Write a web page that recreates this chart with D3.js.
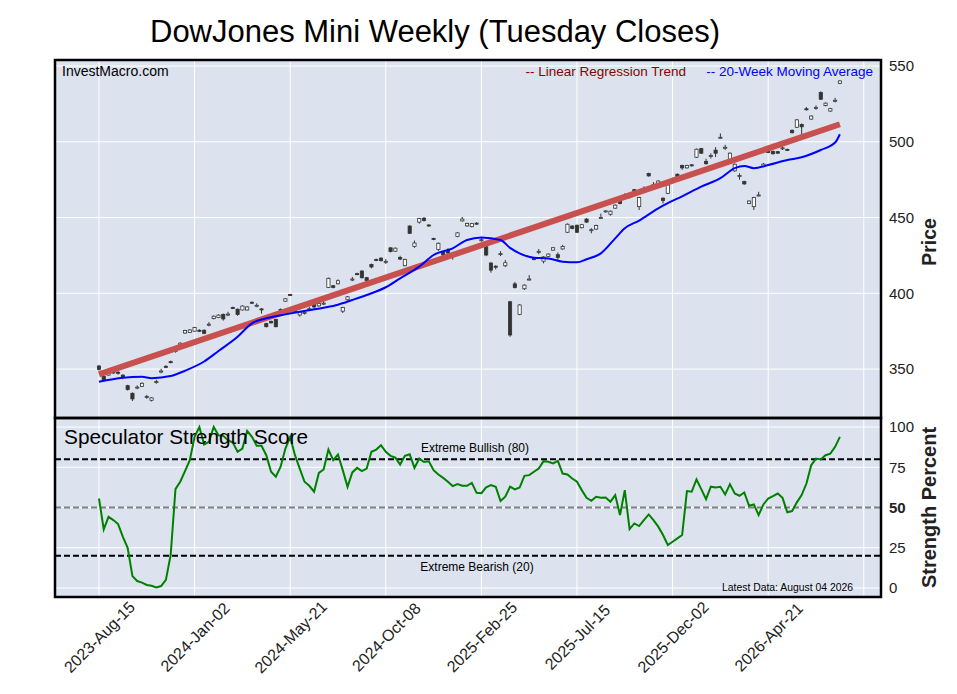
<!DOCTYPE html>
<html>
<head>
<meta charset="utf-8">
<script src="https://cdn.jsdelivr.net/npm/d3@7"></script>
<style>
    body { margin: 0; background: #fff; }
    text { font-family: "Liberation Sans", Arial, sans-serif; }
</style>
</head>
<body>
<div id="chart"></div>
<script>
// weekly candles, index 0 = 2023-08-15
const opens = [
    352.0,345.2,346.0,348.2,347.9,346.0,339.0,334.0,337.7,338.6,
    331.5,329.4,341.4,348.3,351.8,354.9,361.9,365.5,373.8,374.2,
    375.0,375.6,375.6,379.2,383.3,384.0,386.1,385.9,390.6,389.5,
    389.0,389.0,394.1,391.7,389.7,380.0,381.5,382.8,389.3,394.8,
    399.2,388.5,385.7,387.0,389.4,392.6,391.7,393.1,403.9,405.0,
    406.3,388.2,395.7,409.0,413.0,414.7,410.3,419.0,422.3,423.2,
    420.7,430.0,427.8,423.6,418.2,444.4,431.0,447.0,449.6,445.1,
    436.2,429.0,427.4,428.4,424.4,437.5,447.8,444.5,444.0,446.3,
    435.0,430.8,420.0,417.9,425.8,418.2,394.4,406.2,386.1,403.0,
    409.0,422.9,427.3,421.2,424.3,428.5,425.5,429.3,440.3,444.4,
    444.9,443.3,449.0,441.6,442.4,449.7,453.8,452.2,456.2,460.9,
    464.1,463.7,468.4,457.2,468.5,479.1,471.3,472.5,462.8,466.0,
    474.6,478.6,484.4,482.8,484.8,489.8,495.5,487.1,490.5,494.5,
    502.6,496.0,487.6,480.8,477.3,473.8,459.3,457.2,464.5,483.7,
    495.0,493.7,493.5,495.6,495.0,507.6,509.6,511.5,521.8,515.0,
    522.2,532.5,523.9,520.3,527.0,538.6
];
const closes = [
    349.8,343.0,347.4,347.4,347.5,344.4,336.5,330.3,338.1,340.6,
    331.9,331.0,341.8,348.7,351.2,354.3,362.3,367.1,375.4,375.8,
    377.4,375.0,373.6,379.6,384.9,385.6,383.1,386.3,390.0,386.1,
    391.6,391.0,393.5,392.1,389.1,378.0,380.5,378.0,388.9,396.4,
    398.6,387.5,387.7,387.4,389.8,391.0,393.3,393.5,409.9,403.8,
    408.3,390.6,397.7,409.4,412.4,410.3,408.5,417.4,421.7,421.6,
    421.1,427.6,429.8,422.6,422.4,439.6,433.2,449.4,448.0,444.5,
    435.6,433.0,425.4,426.6,424.8,439.9,449.0,446.1,446.0,445.7,
    435.4,425.3,415.3,417.3,426.2,420.2,372.5,403.8,392.3,405.4,
    409.4,422.3,427.7,424.0,425.9,430.1,423.7,430.9,445.6,442.8,
    440.3,445.3,447.0,442.0,444.8,450.1,454.4,454.2,458.2,459.3,
    464.5,464.1,466.8,463.2,468.9,477.5,471.7,474.1,461.2,471.5,
    475.4,477.0,482.8,484.4,484.2,495.1,492.5,485.5,490.9,492.5,
    503.0,496.4,492.5,485.2,477.7,472.2,460.9,463.2,464.9,485.3,
    493.0,492.1,492.5,496.0,494.4,506.0,514.5,509.9,521.2,517.0,
    522.6,528.1,525.5,521.9,527.4,540.2
];
const highs = [
    352.8,345.8,347.9,348.8,348.9,346.6,339.6,334.6,339.2,341.2,
    333.0,331.5,343.0,350.2,352.6,355.6,363.6,367.6,375.9,376.3,
    377.9,376.3,376.2,381.0,385.4,386.1,386.6,387.8,391.2,390.0,
    392.1,391.5,394.6,393.4,390.2,380.6,382.0,383.2,390.0,396.9,
    399.7,389.0,388.2,388.7,391.2,393.1,393.8,394.8,410.4,405.5,
    409.2,391.1,398.2,410.8,413.6,415.2,410.8,419.6,422.9,423.8,
    422.6,430.5,430.3,424.8,422.9,444.9,434.8,449.9,450.3,445.6,
    436.7,433.6,427.9,429.8,426.2,440.4,450.4,446.6,446.5,446.9,
    437.2,431.3,420.5,418.5,427.8,422.0,395.0,407.5,392.8,405.9,
    412.0,423.5,429.2,424.5,426.4,430.6,427.0,432.0,446.1,444.9,
    445.4,445.8,449.5,443.0,445.3,452.6,454.9,454.7,458.7,461.4,
    466.0,465.6,468.9,463.7,470.6,479.6,473.4,474.6,463.3,472.0,
    476.4,479.1,484.9,484.9,485.3,495.6,496.0,488.8,492.4,496.5,
    505.5,498.0,493.0,485.7,479.2,474.3,461.4,463.7,467.0,486.0,
    496.5,494.2,494.0,497.8,495.5,508.1,515.0,512.0,522.9,517.5,
    524.0,533.3,526.0,522.4,529.0,540.7
];
const lows = [
    349.0,342.3,345.6,346.8,346.3,343.3,335.8,328.9,336.7,338.1,
    330.4,328.6,340.3,347.2,350.6,353.8,360.8,365.0,373.3,373.8,
    374.6,374.4,373.0,378.2,382.8,383.6,382.0,384.9,389.6,385.2,
    388.6,388.6,393.1,390.8,386.6,377.4,380.0,377.4,388.4,394.4,
    398.2,387.0,384.6,386.0,388.3,390.0,391.2,392.3,403.5,403.3,
    405.8,387.0,395.2,408.0,411.9,409.8,408.0,416.5,421.2,420.9,
    419.4,427.0,427.3,422.0,417.8,439.2,430.0,446.0,447.4,444.0,
    435.1,428.0,424.8,426.0,422.2,437.0,447.3,444.0,443.5,445.2,
    434.0,424.5,413.6,415.8,424.6,417.3,371.3,403.2,385.6,402.2,
    408.5,421.8,425.8,419.8,423.8,428.0,422.3,428.8,439.8,442.3,
    439.8,442.8,446.5,439.6,441.9,449.2,453.3,451.2,455.7,458.8,
    463.0,462.6,466.3,455.0,467.5,477.0,470.2,472.0,459.3,465.5,
    474.0,476.5,481.5,482.3,483.7,489.3,492.0,485.0,489.0,490.0,
    502.0,494.6,487.1,480.3,475.0,471.7,458.8,455.0,464.0,483.2,
    492.5,491.6,492.0,494.6,493.9,505.5,509.1,502.0,520.7,514.5,
    521.2,527.6,523.4,519.8,526.0,538.1
];

// 20-week moving average at these weeks
const maWeeks = [0,5,9,11,15,18,22,25,29,32,35,39,42,47,50,53,56,60,63,67,70,74,77,80,84,86,88,91,94,97,
    100,102,105,108,110,113,117,119,122,126,130,133,135,137,140,144,147,151,154,155];
const maValues = [341.6,344.3,344.9,344.0,345.4,348.9,355.0,361.9,371.3,380.2,383.5,386.1,387.9,390.5,392.5,
    395.6,398.9,404.0,409.9,417.6,425.3,429.7,435.2,436.9,435.2,430.0,426.4,423.5,423.0,420.9,
    420.5,422.5,426.4,436.3,442.9,448.0,456.1,459.5,464.0,470.4,476.0,482.6,484.1,482.6,484.7,
    488.0,489.8,494.6,499.5,505.0];

// linear regression trend end points
const trendWeeks = [0, 155];
const trendValues = [346.5, 511.6];

// speculator strength score per week
const strength = [
    55.6,36.4,44.2,42.2,39.7,31.8,25.0,7.4,4.3,3.3,
    1.9,1.4,0.3,1.2,5.0,20.5,61.4,66.0,72.6,79.4,
    93.9,100,89.1,90.8,100,94.9,94.5,91.8,90.3,84.6,
    86.6,97.6,93.9,88.3,88.3,82.5,72.2,69.1,75.3,86.6,
    93.9,82.5,74.2,66.0,63.5,59.8,71.5,73.6,86.0,79.4,
    82.9,73.2,62.8,71.8,74.6,72.6,74.2,84.6,86.0,88.7,
    84.6,82.1,81.0,76.7,82.1,83.1,74.6,80.4,78.3,78.7,
    73.2,70.5,68.4,66.0,63.3,64.6,63.5,63.5,65.3,59.1,
    58.9,62.5,63.9,62.9,54.0,56.7,62.9,61.2,62.4,69.7,
    70.1,72.2,74.2,78.8,78.4,77.4,79.0,71.1,70.5,68.0,
    66.0,60.8,56.0,54.2,56.7,56.0,56.2,53.6,57.7,45.3,
    60.8,36.6,40.1,38.5,42.2,45.7,42.2,38.1,32.9,26.7,
    28.7,30.8,32.9,60.2,59.8,67.4,61.4,55.2,62.9,62.4,
    62.9,58.1,64.5,58.7,57.3,59.3,51.1,51.9,45.3,51.9,
    55.6,57.1,58.7,56.0,47.0,47.8,53.2,57.7,64.9,76.3,
    80.4,79.8,82.5,83.5,87.7,93.9
];

const tickWeeks = [0, 20, 40, 60, 80, 100, 120, 140];
const tickLabels = ["2023-Aug-15", "2024-Jan-02", "2024-May-21", "2024-Oct-08",
    "2025-Feb-25", "2025-Jul-15", "2025-Dec-02", "2026-Apr-21"];
const gridWeeks = [0, 20, 40, 60, 80, 100, 120, 140, 160];
const priceTicks = [350, 400, 450, 500, 550];
const strengthTicks = [0, 25, 50, 75, 100];
const extremeLevels = [80, 20];

const W = 957, H = 694;
const box = { left: 55, right: 881, top: 60, mid: 418, bottom: 597 };

const svg = d3.select("#chart").append("svg")
    .attr("width", W).attr("height", H);

const x = d3.scaleLinear().domain([-9.2, 163.6]).range([box.left, box.right]);
const y = d3.scaleLinear().domain([317.7, 554]).range([box.mid, box.top]);
const ys = d3.scaleLinear().domain([-5.6, 105.6]).range([box.bottom, box.mid]);

// clip paths
const defs = svg.append("defs");
defs.append("clipPath").attr("id", "clipTop")
    .append("rect").attr("x", box.left).attr("y", box.top)
    .attr("width", box.right - box.left).attr("height", box.mid - box.top);
defs.append("clipPath").attr("id", "clipBot")
    .append("rect").attr("x", box.left).attr("y", box.mid)
    .attr("width", box.right - box.left).attr("height", box.bottom - box.mid);

// background
svg.append("rect").attr("x", box.left).attr("y", box.top)
    .attr("width", box.right - box.left).attr("height", box.bottom - box.top)
    .attr("fill", "#dce3ee");

// grid
const grid = svg.append("g").attr("stroke", "#fff").attr("stroke-width", 1);
grid.selectAll(".vg").data(gridWeeks).enter().append("line")
    .attr("x1", d => x(d)).attr("x2", d => x(d)).attr("y1", box.top).attr("y2", box.bottom);
grid.selectAll(".hp").data(priceTicks).enter().append("line")
    .attr("x1", box.left).attr("x2", box.right).attr("y1", d => y(d)).attr("y2", d => y(d));
grid.selectAll(".hs").data(strengthTicks).enter().append("line")
    .attr("x1", box.left).attr("x2", box.right).attr("y1", d => ys(d)).attr("y2", d => ys(d));

// candles
const candles = opens.map((o, i) => ({ w: i, o: o, c: closes[i], h: highs[i], l: lows[i] }));
const cg = svg.append("g").attr("clip-path", "url(#clipTop)");
const bw = 3.2;
cg.selectAll(".wick").data(candles).enter().append("line")
    .attr("x1", d => x(d.w)).attr("x2", d => x(d.w))
    .attr("y1", d => y(d.h)).attr("y2", d => y(d.l))
    .attr("stroke", "#333").attr("stroke-width", 1);
cg.selectAll(".body").data(candles).enter().append("rect")
    .attr("x", d => x(d.w) - bw / 2)
    .attr("y", d => y(Math.max(d.o, d.c)))
    .attr("width", bw)
    .attr("height", d => Math.max(1, Math.abs(y(d.o) - y(d.c))))
    .attr("fill", d => d.c >= d.o ? "#fff" : "#333")
    .attr("stroke", "#333").attr("stroke-width", 0.8);

// trend line
cg.append("path")
    .datum(trendWeeks.map((w, i) => [w, trendValues[i]]))
    .attr("d", d3.line().x(d => x(d[0])).y(d => y(d[1])))
    .attr("fill", "none").attr("stroke", "#c8504f").attr("stroke-width", 6);

// moving average
cg.append("path")
    .datum(maWeeks.map((w, i) => [w, maValues[i]]))
    .attr("d", d3.line().curve(d3.curveMonotoneX).x(d => x(d[0])).y(d => y(d[1])))
    .attr("fill", "none").attr("stroke", "#0000ff").attr("stroke-width", 2);

// strength panel
const sg = svg.append("g").attr("clip-path", "url(#clipBot)");
sg.selectAll(".ext").data(extremeLevels).enter().append("line")
    .attr("x1", box.left).attr("x2", box.right).attr("y1", d => ys(d)).attr("y2", d => ys(d))
    .attr("stroke", "#000").attr("stroke-width", 2).attr("stroke-dasharray", "6,3");
sg.append("line")
    .attr("x1", box.left).attr("x2", box.right).attr("y1", ys(50)).attr("y2", ys(50))
    .attr("stroke", "#808080").attr("stroke-width", 2).attr("stroke-dasharray", "6,3");
sg.append("path")
    .datum(strength)
    .attr("d", d3.line().x((d, i) => x(i)).y(d => ys(d)))
    .attr("fill", "none").attr("stroke", "#008000").attr("stroke-width", 2);

// panel borders
svg.append("rect").attr("x", box.left).attr("y", box.top)
    .attr("width", box.right - box.left).attr("height", box.mid - box.top)
    .attr("fill", "none").attr("stroke", "#000").attr("stroke-width", 2.5);
svg.append("rect").attr("x", box.left).attr("y", box.mid)
    .attr("width", box.right - box.left).attr("height", box.bottom - box.mid)
    .attr("fill", "none").attr("stroke", "#000").attr("stroke-width", 2.5);

// right axes
const yAxis = svg.append("g").attr("transform", `translate(${box.right},0)`)
    .call(d3.axisRight(y).tickValues(priceTicks).tickSize(0).tickPadding(8));
const ysAxis = svg.append("g").attr("transform", `translate(${box.right},0)`)
    .call(d3.axisRight(ys).tickValues(strengthTicks).tickSize(0).tickPadding(8));
[yAxis, ysAxis].forEach(g => {
    g.select(".domain").remove();
    g.selectAll("text").style("font-size", "15px").attr("fill", "#222")
        .style("font-family", "'Liberation Sans', Arial, sans-serif");
});
ysAxis.selectAll("text").filter(d => d === 50).style("font-weight", "bold");

// bottom axis
const xAxis = svg.append("g").attr("transform", `translate(0,${box.bottom})`)
    .call(d3.axisBottom(x).tickValues(tickWeeks).tickSize(0)
        .tickFormat((d, i) => tickLabels[i]));
xAxis.select(".domain").remove();
xAxis.selectAll("text")
    .attr("x", 0).attr("y", 0).attr("dy", "0.35em")
    .attr("transform", "translate(0,40) rotate(-45)")
    .style("text-anchor", "middle")
    .style("font-size", "16px").attr("fill", "#222")
    .style("font-family", "'Liberation Sans', Arial, sans-serif");

// titles and labels
svg.append("text").attr("x", 435).attr("y", 42).attr("text-anchor", "middle")
    .attr("font-size", "31px").attr("textLength", 570).attr("lengthAdjust", "spacingAndGlyphs")
    .text("DowJones Mini Weekly (Tuesday Closes)");

svg.append("text").attr("x", 62).attr("y", 76).attr("font-size", "14px")
    .text("InvestMacro.com");
svg.append("text").attr("x", 686).attr("y", 76).attr("text-anchor", "end")
    .attr("font-size", "13.5px").attr("fill", "#8b0000")
    .text("-- Linear Regression Trend");
svg.append("text").attr("x", 873).attr("y", 76).attr("text-anchor", "end")
    .attr("font-size", "13.5px").attr("fill", "#0000ff")
    .text("-- 20-Week Moving Average");

svg.append("text").attr("x", 64).attr("y", 444).attr("font-size", "21px")
    .attr("textLength", 244).attr("lengthAdjust", "spacingAndGlyphs")
    .text("Speculator Strength Score");
svg.append("text").attr("x", 475).attr("y", ys(80) - 7).attr("text-anchor", "middle")
    .attr("font-size", "12px").text("Extreme Bullish (80)");
svg.append("text").attr("x", 477).attr("y", ys(20) + 15).attr("text-anchor", "middle")
    .attr("font-size", "12px").text("Extreme Bearish (20)");
svg.append("text").attr("x", 853).attr("y", 591).attr("text-anchor", "end")
    .attr("font-size", "11px").attr("textLength", 131).attr("lengthAdjust", "spacingAndGlyphs")
    .text("Latest Data: August 04 2026");

svg.append("text").attr("transform", `translate(936,${(box.top + box.mid) / 2 + 3}) rotate(-90)`)
    .attr("text-anchor", "middle").attr("font-size", "19.5px").attr("font-weight", "bold").attr("fill", "#222")
    .text("Price");
svg.append("text").attr("transform", `translate(936,${(box.mid + box.bottom) / 2}) rotate(-90)`)
    .attr("text-anchor", "middle").attr("font-size", "20px").attr("font-weight", "bold").attr("fill", "#222")
    .text("Strength Percent");
</script>
</body>
</html>
